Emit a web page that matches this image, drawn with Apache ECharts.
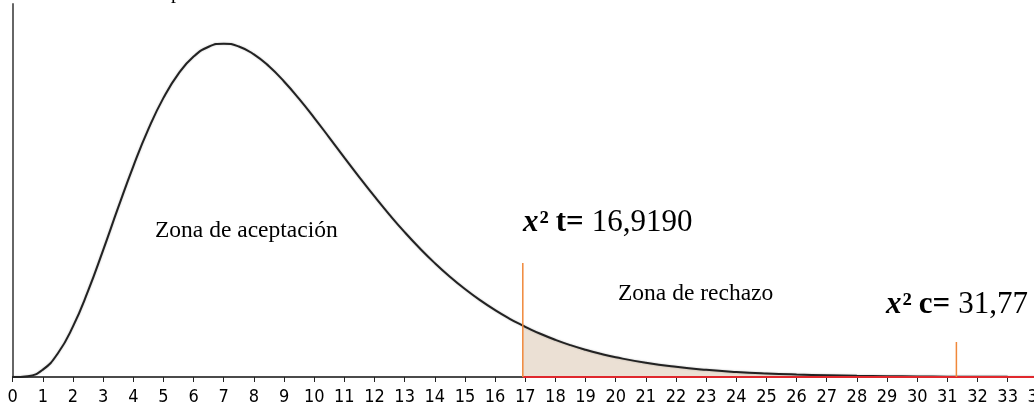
<!DOCTYPE html>
<html>
<head>
<meta charset="utf-8">
<script src="https://cdn.jsdelivr.net/npm/echarts@6/dist/echarts.min.js"></script>
<style>html,body{margin:0;padding:0;background:#fff;}#c{width:1034px;height:407px;}</style>
</head>
<body>
<div id="c"></div>
<script>
// Density curve (x, height)
const curveX = [0,0.5,1,1.5,2,2.5,3,3.5,4,4.5,5,5.5,6,6.5,7,7.5,8,8.5,9,9.5,10,10.5,11,11.5,12,12.5,13,13.5,14,14.5,15,15.5,16,16.5,16.919,17,17.5,18,18.5,19,19.5,20,21,22,23,24,25,26,27,28,29,30,31,32,33,34];
const curveY = [0,0.000262,0.002304,0.007419,0.015814,0.026893,0.039647,0.052958,0.065819,0.077411,0.087175,0.094772,0.100087,0.103150,0.104121,0.103241,0.100779,0.097040,0.092310,0.086868,0.080958,0.074792,0.068546,0.062372,0.056378,0.050652,0.045249,0.040218,0.035573,0.031324,0.027469,0.023994,0.020883,0.018113,0.016036,0.015660,0.013498,0.011602,0.009945,0.008503,0.007252,0.006171,0.004440,0.003169,0.002246,0.001581,0.001106,0.000770,0.000533,0.000367,0.000252,0.000172,0.000117,0.000080,0.000054,0.000036];
const criticalT = 16.919;      // χ² tabla
const markerC = 31.3;          // position of χ² c marker line
const tLineTop = 0.0356;
const cLineTop = 0.0109;
const xMax = 34;

const curve = curveX.map((x, i) => [x, curveY[i]]);
const tail = curve.filter(p => p[0] >= criticalT);

const chart = echarts.init(document.getElementById('c'), null, {renderer: 'canvas'});
const serif = "'Liberation Serif', 'Times New Roman', serif";
const richBig = {
  xi: {fontFamily: serif, fontSize: 31, fontStyle: 'italic', fontWeight: 'bold', color: '#000'},
  sb: {fontFamily: serif, fontSize: 31, fontWeight: 'bold', color: '#000', padding: [0, 7, 0, 1]},
  b: {fontFamily: serif, fontSize: 31, fontWeight: 'bold', color: '#000', padding: [0, 8, 0, 0]},
  n: {fontFamily: serif, fontSize: 31, color: '#000'}
};
chart.setOption({
  animation: false,
  backgroundColor: '#ffffff',
  grid: {left: 12.7, right: 1034 - (12.7 + xMax * 30.15), top: 4, bottom: 30,
         containLabel: false, outerBoundsMode: 'none'},
  xAxis: {
    type: 'value', min: 0, max: xMax, interval: 1,
    axisLine: {show: true, onZero: false, lineStyle: {color: '#111', width: 1.5}},
    axisTick: {show: true, length: 5, lineStyle: {color: '#222', width: 1}},
    axisLabel: {show: true, margin: 11, color: '#000', fontSize: 18,
      fontFamily: "'Liberation Sans Narrow', 'DejaVu Sans Condensed', 'Liberation Sans', sans-serif"},
    splitLine: {show: false}
  },
  yAxis: {
    type: 'value', min: 0, max: 0.1165,
    axisLine: {show: true, lineStyle: {color: '#666', width: 2}},
    axisTick: {show: false}, axisLabel: {show: false}, splitLine: {show: false}
  },
  series: [
    {
      type: 'line', data: tail, smooth: true, symbol: 'none',
      lineStyle: {width: 0}, areaStyle: {color: '#ebe0d4', opacity: 1}, z: 1
    },
    {
      type: 'line', data: curve, smooth: true, symbol: 'none',
      lineStyle: {color: '#222', width: 2, shadowColor: 'rgba(0,0,0,0.25)', shadowBlur: 2}, z: 3
    },
    {
      type: 'line', data: [[criticalT, 0], [xMax, 0]], symbol: 'none',
      lineStyle: {color: '#e0282d', width: 2}, z: 4
    },
    {
      type: 'line', data: [[criticalT, 0], [criticalT, tLineTop]], symbol: 'none',
      lineStyle: {color: '#f0883a', width: 1.5}, z: 5
    },
    {
      type: 'line', data: [[markerC, 0], [markerC, cLineTop]], symbol: 'none',
      lineStyle: {color: '#f0883a', width: 1.5}, z: 5
    }
  ],
  graphic: [
    {type: 'text', x: 171, y: -17, style: {text: 'p', font: "20px " + serif, fill: '#000'}},
    {type: 'text', x: 155, y: 231, style: {text: 'Zona de aceptación', font: "23.5px " + serif, fill: '#000', verticalAlign: 'middle'}},
    {type: 'text', x: 618, y: 294, style: {text: 'Zona de rechazo', font: "23.5px " + serif, fill: '#000', verticalAlign: 'middle'}},
    {type: 'text', x: 523, y: 223, style: {
      text: '{xi|x}{sb|²}{b|t=}{n|16,9190}', rich: richBig, verticalAlign: 'middle'}},
    {type: 'text', x: 886, y: 305, style: {
      text: '{xi|x}{sb|²}{b|c=}{n|31,77}', rich: richBig, verticalAlign: 'middle'}}
  ]
});
</script>
</body>
</html>
